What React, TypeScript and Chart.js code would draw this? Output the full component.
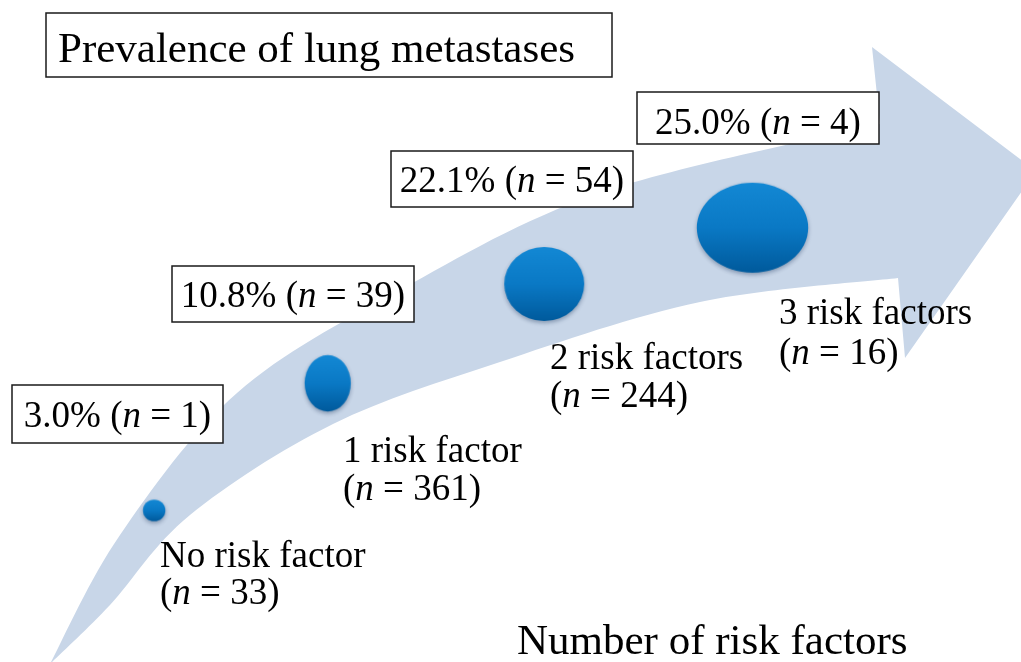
import React, { useEffect, useRef } from "react";
import { Chart, registerables } from "chart.js";

Chart.register(...registerables);

// ---------- data ----------
const categories = ["No risk factor", "1 risk factor", "2 risk factors", "3 risk factors"];
const totalN = [33, 361, 244, 16];
const prevalence = [3.0, 10.8, 22.1, 25.0];
const metastasesN = [1, 39, 54, 4];
// bubble placement along the arrow (layout units 0-100) and bubble radius
const bubbleX = [15.1, 32.1, 53.3, 73.7];
const bubbleY = [22.9, 42.1, 57.1, 65.6];
const bubbleR = [11, 25.5, 38.5, 50];
const titleText = "Prevalence of lung metastases";
const axisTitle = "Number of risk factors";

// ---------- layout / style (design px on a 1021 x 662 page) ----------
const W = 1021;
const H = 662;
const bubbleAspect = [1.04, 0.82, 1.08, 1.24];
const prevBoxes = [
  [12, 385, 211, 58, 427],
  [172, 266, 242, 56, 307],
  [391, 151, 242, 56, 192],
  [637, 92, 242, 52, 134],
];
const catPos = [
  [160, 567, 604],
  [343, 462, 500],
  [550, 369, 407],
  [779, 324, 364],
];
const titleBox = [46, 13, 566, 64];
const titlePos = [58, 62];
const axisTitlePos = [517, 654];
const upperEdge = [
  [50, 664], [120, 535], [237, 393], [400, 290], [600, 193], [880, 124],
];
const arrowHead = [[872, 47], [1036, 171], [905, 358], [898, 278]];
const lowerEdge = [
  [898, 278], [700, 302], [500, 362], [333, 424], [190, 515], [110, 605], [50, 664],
];
const FONT = '"Liberation Serif", "Times New Roman", serif';
const arrowColor = "#c8d6e8";

function makeBubble(r: number, aspect: number) {
  const rx = r * Math.sqrt(aspect);
  const ry = r / Math.sqrt(aspect);
  const pad = 8;
  const c = document.createElement("canvas");
  c.width = Math.round(2 * rx + 2 * pad);
  c.height = Math.round(2 * ry + 2 * pad);
  const ctx = c.getContext("2d")!;
  const cx = c.width / 2;
  const cy = c.height / 2;
  ctx.save();
  ctx.shadowColor = "rgba(0,30,70,0.35)";
  ctx.shadowBlur = 4;
  ctx.shadowOffsetY = 2;
  const g = ctx.createLinearGradient(0, cy - ry, 0, cy + ry);
  g.addColorStop(0, "#1388d4");
  g.addColorStop(0.5, "#0a79c5");
  g.addColorStop(1, "#005a9c");
  ctx.fillStyle = g;
  ctx.beginPath();
  ctx.ellipse(cx, cy, rx, ry, 0, 0, Math.PI * 2);
  ctx.fill();
  ctx.restore();
  return c;
}

type Seg = { t: string; i?: boolean };

function drawRich(ctx: CanvasRenderingContext2D, segs: Seg[], x: number, y: number, size: number, center = false) {
  const fonts = segs.map((s) => (s.i ? `italic ${size}px ${FONT}` : `${size}px ${FONT}`));
  const widths = segs.map((s, k) => {
    ctx.font = fonts[k];
    return ctx.measureText(s.t).width;
  });
  const total = widths.reduce((a, b) => a + b, 0);
  let cx = center ? x - total / 2 : x;
  ctx.textBaseline = "alphabetic";
  ctx.textAlign = "left";
  segs.forEach((s, k) => {
    ctx.font = fonts[k];
    ctx.fillText(s.t, cx, y);
    cx += widths[k];
  });
}

function smoothPath(ctx: CanvasRenderingContext2D, pts: number[][], map: (p: number[]) => number[]) {
  const p = pts.map(map);
  for (let i = 0; i < p.length - 1; i++) {
    const p0 = p[Math.max(0, i - 1)];
    const p1 = p[i];
    const p2 = p[i + 1];
    const p3 = p[Math.min(p.length - 1, i + 2)];
    const c1x = p1[0] + (p2[0] - p0[0]) / 6;
    const c1y = p1[1] + (p2[1] - p0[1]) / 6;
    const c2x = p2[0] - (p3[0] - p1[0]) / 6;
    const c2y = p2[1] - (p3[1] - p1[1]) / 6;
    ctx.bezierCurveTo(c1x, c1y, c2x, c2y, p2[0], p2[1]);
  }
}

function mapper(chart: any) {
  const xs = chart.scales.x;
  const ys = chart.scales.y;
  return (p: number[]) => [
    xs.getPixelForValue((p[0] / W) * 100),
    ys.getPixelForValue(((H - p[1]) / H) * 100),
  ];
}

const arrowPlugin = {
  id: "arrowBackground",
  beforeDatasetsDraw(chart: any) {
    const ctx = chart.ctx as CanvasRenderingContext2D;
    const m = mapper(chart);
    ctx.save();
    ctx.fillStyle = arrowColor;
    ctx.beginPath();
    const s = m(upperEdge[0]);
    ctx.moveTo(s[0], s[1]);
    smoothPath(ctx, upperEdge, m);
    arrowHead.forEach((pt) => {
      const q = m(pt);
      ctx.lineTo(q[0], q[1]);
    });
    smoothPath(ctx, lowerEdge, m);
    ctx.closePath();
    ctx.fill();
    ctx.restore();
  },
};

const labelPlugin = {
  id: "labels",
  afterDatasetsDraw(chart: any) {
    const ctx = chart.ctx as CanvasRenderingContext2D;
    const m = mapper(chart);
    ctx.save();
    ctx.fillStyle = "#000";
    // title box
    {
      const a = m([titleBox[0], titleBox[1]]);
      const b = m([titleBox[0] + titleBox[2], titleBox[1] + titleBox[3]]);
      ctx.fillStyle = "#fff";
      ctx.fillRect(a[0], a[1], b[0] - a[0], b[1] - a[1]);
      ctx.strokeStyle = "#1a1a1a";
      ctx.lineWidth = 1.5;
      ctx.strokeRect(a[0], a[1], b[0] - a[0], b[1] - a[1]);
      ctx.fillStyle = "#000";
      const t = m(titlePos);
      drawRich(ctx, [{ t: titleText }], t[0], t[1], 43);
    }
    // prevalence boxes
    prevalence.forEach((v, i) => {
      const [bx, by, bw, bh, base] = prevBoxes[i];
      const a = m([bx, by]);
      const b = m([bx + bw, by + bh]);
      ctx.fillStyle = "#fff";
      ctx.fillRect(a[0], a[1], b[0] - a[0], b[1] - a[1]);
      ctx.strokeStyle = "#1a1a1a";
      ctx.lineWidth = 1.5;
      ctx.strokeRect(a[0], a[1], b[0] - a[0], b[1] - a[1]);
      ctx.fillStyle = "#000";
      const c = m([bx + bw / 2, base]);
      drawRich(
        ctx,
        [{ t: `${v.toFixed(1)}% (` }, { t: "n", i: true }, { t: ` = ${metastasesN[i]})` }],
        c[0],
        c[1],
        37,
        true
      );
    });
    // category labels
    categories.forEach((cat, i) => {
      const [x, b1, b2] = catPos[i];
      const p1 = m([x, b1]);
      const p2 = m([x, b2]);
      drawRich(ctx, [{ t: cat }], p1[0], p1[1], 37);
      drawRich(ctx, [{ t: "(" }, { t: "n", i: true }, { t: ` = ${totalN[i]})` }], p2[0], p2[1], 37);
    });
    // axis title
    const at = m(axisTitlePos);
    drawRich(ctx, [{ t: axisTitle }], at[0], at[1], 43);
    ctx.restore();
  },
};

export default function App() {
  const ref = useRef<HTMLCanvasElement | null>(null);
  useEffect(() => {
    if (!ref.current) return;
    const styles = bubbleR.map((r, i) => makeBubble(r, bubbleAspect[i]));
    const chart = new Chart(ref.current, {
      type: "bubble",
      data: {
        datasets: [
          {
            label: "Prevalence of lung metastases",
            data: bubbleX.map((x, i) => ({ x, y: bubbleY[i], r: bubbleR[i] })),
            pointStyle: styles as any,
            backgroundColor: "#0a79c5",
            borderWidth: 0,
            clip: false as any,
          },
        ],
      },
      options: {
        responsive: false,
        animation: false,
        events: [],
        layout: { padding: 0, autoPadding: false },
        scales: {
          x: { type: "linear", min: 0, max: 100, display: false },
          y: { type: "linear", min: 0, max: 100, display: false },
        },
        plugins: {
          legend: { display: false },
          tooltip: { enabled: false },
        },
      },
      plugins: [arrowPlugin, labelPlugin],
    });
    return () => chart.destroy();
  }, []);
  return (
    <div style={{ position: "fixed", left: 0, top: 0, width: W, height: H, background: "#fff" }}>
      <canvas ref={ref} width={W} height={H} style={{ display: "block" }} />
    </div>
  );
}
